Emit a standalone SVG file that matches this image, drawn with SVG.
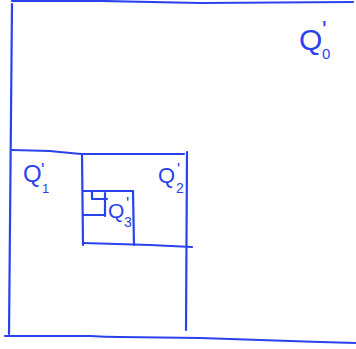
<svg xmlns="http://www.w3.org/2000/svg" width="356" height="349" viewBox="0 0 356 349">
<style>
.ln{fill:none;stroke:#2a42ee;stroke-width:2.2;stroke-linecap:round;stroke-linejoin:round}
.lb{fill:#2a42ee;font-family:"Liberation Sans",Arial,sans-serif}
</style>
<rect width="356" height="349" fill="#ffffff"/>
<g id="connectors">
</g>
<g id="Q0">
<path class="ln" d="M12,1 L100,1 Q150,2 200,3 L353,2"/>
<path class="ln" d="M12,4 L9,334"/>
<path class="ln" d="M5,336 L90,336 Q105,337 120,337 L200,338 Q260,340 320,342 L356,343"/>
<text class="lb" x="299" y="50" font-size="30">Q<tspan x="322" y="38" font-size="24">'</tspan><tspan x="322" y="59" font-size="15">0</tspan></text>
</g>
<g id="Q1">
<path class="ln" d="M12,150 L50,151 Q70,153 82,154"/>
<text class="lb" x="23" y="182" font-size="24">Q<tspan x="41" y="176" font-size="18">'</tspan><tspan x="42" y="193" font-size="13">1</tspan></text>
</g>
<g id="Q2">
<path class="ln" d="M82,154 L184,154"/>
<path class="ln" d="M82,154 L83,245"/>
<path class="ln" d="M187,152 L186,330"/>
<path class="ln" d="M83,243 L150,245 L192,247"/>
<text class="lb" x="158" y="183" font-size="22">Q<tspan x="177" y="175" font-size="16">'</tspan><tspan x="176" y="193" font-size="14">2</tspan></text>
</g>
<g id="Q3">
<path class="ln" d="M83,191 L133,191"/>
<path class="ln" d="M133,191 L134,245"/>
<path class="ln" d="M83,215 L105,215"/>
<path class="ln" d="M105,193 L105,216"/>
<path class="ln" d="M92,191 L92,199 L107,199"/>
<text class="lb" x="108" y="218" font-size="21">Q<tspan x="126" y="209" font-size="17">'</tspan><tspan x="124" y="227" font-size="14">3</tspan></text>
</g>
</svg>
